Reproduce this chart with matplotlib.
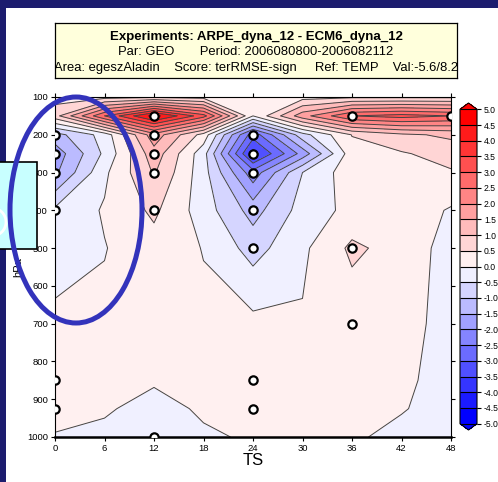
import numpy as np
import matplotlib
matplotlib.use('Agg')
import matplotlib.pyplot as plt
from matplotlib.colors import ListedColormap
from matplotlib.patches import Rectangle, Ellipse
from matplotlib.transforms import Affine2D

plt.rcParams['font.family'] = ['Liberation Sans', 'DejaVu Sans']

# forecast steps and pressure levels
ts = [0, 6, 12, 18, 24, 30, 36, 42, 48]
plev = [100, 150, 200, 250, 300, 400, 500, 700, 850, 925, 1000]

# RMSE difference (rows = plev, cols = ts)
diff = np.array([
    [0.3, 0.3, 0.4, 0.3, 0.3, 0.3, 0.4, 0.4, 0.4],
    [0.8, 3.0, 4.7, 3.2, 0.0, 1.8, 3.0, 3.2, 3.0],
    [-1.2, -0.3, 1.8, 0.3, -2.8, -0.7, 0.52, 0.9, 1.1],
    [-1.8, -0.4, 1.3, -0.3, -3.7, -1.8, 0.3, 0.45, 0.7],
    [-1.6, -0.1, 1.05, -0.3, -2.3, -0.5, 0.3, 0.35, 0.45],
    [-0.4, 0.05, 0.6, -0.25, -1.2, -0.3, 0.15, 0.3, -0.05],
    [-0.2, -0.02, 0.3, -0.02, -0.7, -0.1, 0.6, 0.3, -0.2],
    [0.1, 0.1, 0.2, 0.1, 0.14, 0.05, 0.2, 0.3, -0.3],
    [0.1, 0.1, 0.05, 0.1, 0.2, 0.15, 0.2, 0.15, -0.3],
    [0.05, 0.05, -0.15, 0.06, 0.2, 0.2, 0.2, 0.05, -0.3],
    [-0.01, -0.1, -0.3, -0.06, 0.05, 0.2, 0.1, -0.2, -0.4],
])

# significant points
sig_ts = [0, 0, 0, 0, 0, 0, 12, 12, 12, 12, 12, 12,
          24, 24, 24, 24, 24, 24, 24, 36, 36, 36, 48]
sig_p = [200, 250, 300, 400, 850, 925, 150, 200, 250, 300, 400, 1000,
         200, 250, 300, 400, 500, 850, 925, 150, 500, 700, 150]

levels = np.arange(-5, 5.01, 0.5)
title1 = 'Experiments: ARPE_dyna_12 - ECM6_dyna_12'
title2 = 'Par: GEO       Period: 2006080800-2006082112'
title3 = 'Area: egeszAladin    Score: terRMSE-sign     Ref: TEMP    Val:-5.6/8.2'

W, H = 498, 482
fig = plt.figure(figsize=(W / 100, H / 100), dpi=100)
fig.patch.set_facecolor('#1c1c6e')
pix = Affine2D().scale(1 / W, -1 / H).translate(0, 1) + fig.transFigure
fig.add_artist(Rectangle((6, 8), W, H, transform=pix, facecolor='white',
                         edgecolor='none', zorder=-10))

reds = [(1, g, g) for g in np.linspace(240, 0, 10) / 255]
blues = [(g, g, 1) for g in np.linspace(0, 240, 10) / 255]
cmap = ListedColormap(blues + reds)
cmap.set_over('#ff0000')
cmap.set_under('#0000ff')

ax = fig.add_axes([55 / W, 1 - 437 / H, 396 / W, 340 / H])
X, Y = np.meshgrid(ts, plev)
cf = ax.contourf(X, Y, diff, levels=levels, cmap=cmap, extend='both')
ax.contour(X, Y, diff, levels=levels, colors='#444444', linewidths=0.7,
           linestyles='solid')
ax.plot(sig_ts, sig_p, 'o', ms=6, mfc='white', mec='black', mew=1.6, zorder=5)

ax.set_xlim(0, 48)
ax.set_ylim(1000, 100)
ax.set_xticks(range(0, 49, 6))
ax.set_yticks(range(100, 1001, 100))
ax.tick_params(labelsize=6.8, direction='out', length=3, width=0.8,
               top=True, right=True, pad=2)
ax.spines['bottom'].set_linewidth(1.8)
ax.set_xlabel('TS', fontsize=12, labelpad=0)
ax.set_ylabel('hPa', fontsize=8, labelpad=3)

cax = fig.add_axes([460 / W, 1 - 430 / H, 17 / W, 327 / H])
cb = fig.colorbar(cf, cax=cax, ticks=levels, drawedges=True, extendfrac=0.02)
cb.ax.tick_params(labelsize=6.2, length=3, width=0.8, pad=2)
cb.ax.set_yticklabels(['%.1f' % v for v in levels])
cb.dividers.set_linewidth(0.8)
cb.outline.set_linewidth(0.8)

# title box
tax = fig.add_axes([55 / W, 1 - 78 / H, 402 / W, 55 / H])
tax.set_facecolor('#ffffdc')
tax.set_xticks([])
tax.set_yticks([])
for s in tax.spines.values():
    s.set_linewidth(0.9)
tax.text(0.5, 0.74, title1, ha='center', va='center', fontsize=9.5,
         fontweight='bold', transform=tax.transAxes, clip_on=True)
tax.text(0.5, 0.48, title2, ha='center', va='center', fontsize=9.4,
         transform=tax.transAxes, clip_on=True)
tax.text(0.5, 0.18, title3, ha='center', va='center', fontsize=9.4,
         transform=tax.transAxes, clip_on=True)

# overlays from the slide
fig.add_artist(Rectangle((-2, 162), 39, 87, transform=pix, facecolor='#c8ffff',
                         edgecolor='black', linewidth=1.2, zorder=10))
fig.add_artist(Ellipse((-8, 222), 28, 28, transform=pix, facecolor='none',
                       edgecolor='white', linewidth=2, zorder=11))
fig.add_artist(Ellipse((76, 210), 132, 226, transform=pix, facecolor='none',
                       edgecolor='#3333bb', linewidth=3.6, zorder=12))

fig.savefig('out.png', dpi=100)
